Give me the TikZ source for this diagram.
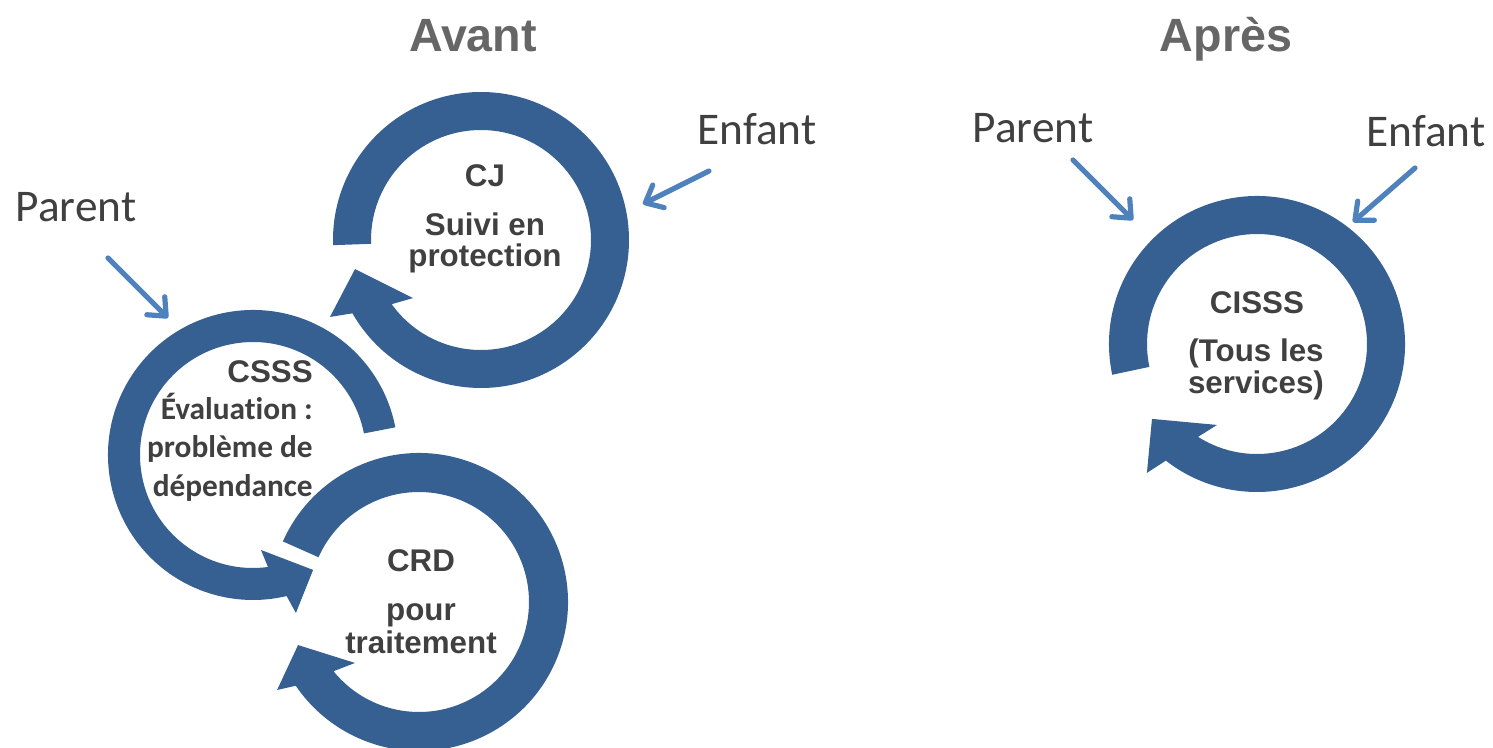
\documentclass[tikz,border=0pt]{standalone}
\usepackage{fontspec}
\setmainfont{Liberation Sans}
\newfontfamily\carlito[Ligatures=NoCommon]{Carlito}
\usetikzlibrary{arrows.meta}
\definecolor{ringblue}{HTML}{366092}
\definecolor{arrowblue}{HTML}{4F81BD}
\definecolor{txtgray}{HTML}{404040}
\definecolor{titlegray}{HTML}{666666}
\tikzset{
  ring/.style={fill=ringblue},
  titletext/.style={inner sep=0pt, anchor=base, text=titlegray, font=\fontsize{35}{42}\selectfont\bfseries},
  lbltext/.style={inner sep=0pt, anchor=base, text=txtgray, font=\carlito\fontsize{34}{40}\selectfont},
  ctext/.style={inner sep=0pt, anchor=base, text=txtgray, font=\fontsize{23.5}{28}\selectfont\bfseries},
  ctextc/.style={inner sep=0pt, anchor=base east, text=txtgray, font=\carlito\fontsize{23.5}{28}\selectfont\bfseries},
  inarrow/.style={draw=arrowblue, line width=3.9pt, line cap=round,
    -{Straight Barb[length=11pt,width=19pt,line cap=round,line join=round]}}
}
\begin{document}
\begin{tikzpicture}[x=0.75pt,y=-0.75pt]
\useasboundingbox (0,0) rectangle (1493,748);

% titles
\node[titletext] (avant) at (473,52) {Avant};
\node[titletext] (apres) at (1226,52) {Après};

% outside labels
\node[lbltext] (parentA) at (76,222) {Parent};
\node[lbltext] (enfantA) at (757,145) {Enfant};
\node[lbltext] (parentB) at (1033,143) {Parent};
\node[lbltext] (enfantB) at (1426,147) {Enfant};

% CJ ring
\begin{scope}[shift={(481,240)}]
\fill[ring] (178:148) arc[start angle=178,end angle=510.3,radius=148]
  -- (513:169.5) -- (527:129.3) -- (499.5:89.4) -- (504.3:110)
  arc[start angle=504.3,end angle=178,radius=110] -- cycle;
\end{scope}

% CSSS ring (counter-clockwise)
\begin{scope}[shift={(253,455)}]
\fill[ring] (-11:145) arc[start angle=-11,end angle=-283.4,radius=145]
  -- (-285.2:163.7) -- (-297.6:129.7) -- (-274.8:95.3) -- (-277.6:113)
  arc[start angle=-277.6,end angle=-11,radius=113] -- cycle;
\end{scope}

% CRD ring
\begin{scope}[shift={(419,602)}]
\fill[ring] (204:149) arc[start angle=204,end angle=505.8,radius=149]
  -- (508.2:167) -- (520.4:128.4) -- (496.4:88.4) -- (501:110)
  arc[start angle=501,end angle=204,radius=110] -- cycle;
\end{scope}

% CISSS ring
\begin{scope}[shift={(1257,344)}]
\fill[ring] (168:148) arc[start angle=168,end angle=488,radius=148]
  -- (490.5:169.5) -- (504.5:129) -- (476.3:90.3) -- (482.4:110)
  arc[start angle=482.4,end angle=168,radius=110] -- cycle;
\end{scope}

% ring texts
\node[ctext] (cj1) at (485,187) {CJ};
\node[ctext] (cj2) at (485,236) {Suivi en};
\node[ctext] (cj3) at (485,267) {protection};

\node[ctext, anchor=base east] (csss1) at (313,383) {CSSS};
\node[ctextc] (csss2) at (313,420) {Évaluation :};
\node[ctextc] (csss3) at (313,458) {problème de};
\node[ctextc] (csss4) at (313,497) {dépendance};

\node[ctext] (crd1) at (421,571) {CRD};
\node[ctext] (crd2) at (421,620) {pour};
\node[ctext] (crd3) at (421,653) {traitement};

\node[ctext] (cisss1) at (1257,314) {CISSS};
\node[ctext] (cisss2) at (1256,362) {(Tous les};
\node[ctext] (cisss3) at (1256,394) {services)};

% small input arrows
\coordinate (pA1) at (108,258); \coordinate (pA2) at (168,318);
\coordinate (eA1) at (709,171); \coordinate (eA2) at (643,204);
\coordinate (pB1) at (1073,160); \coordinate (pB2) at (1133,220);
\coordinate (eB1) at (1415,168); \coordinate (eB2) at (1353,222);
\draw[inarrow] (pA1) -- (pA2);
\draw[inarrow] (eA1) -- (eA2);
\draw[inarrow] (pB1) -- (pB2);
\draw[inarrow] (eB1) -- (eB2);
\end{tikzpicture}
\end{document}
